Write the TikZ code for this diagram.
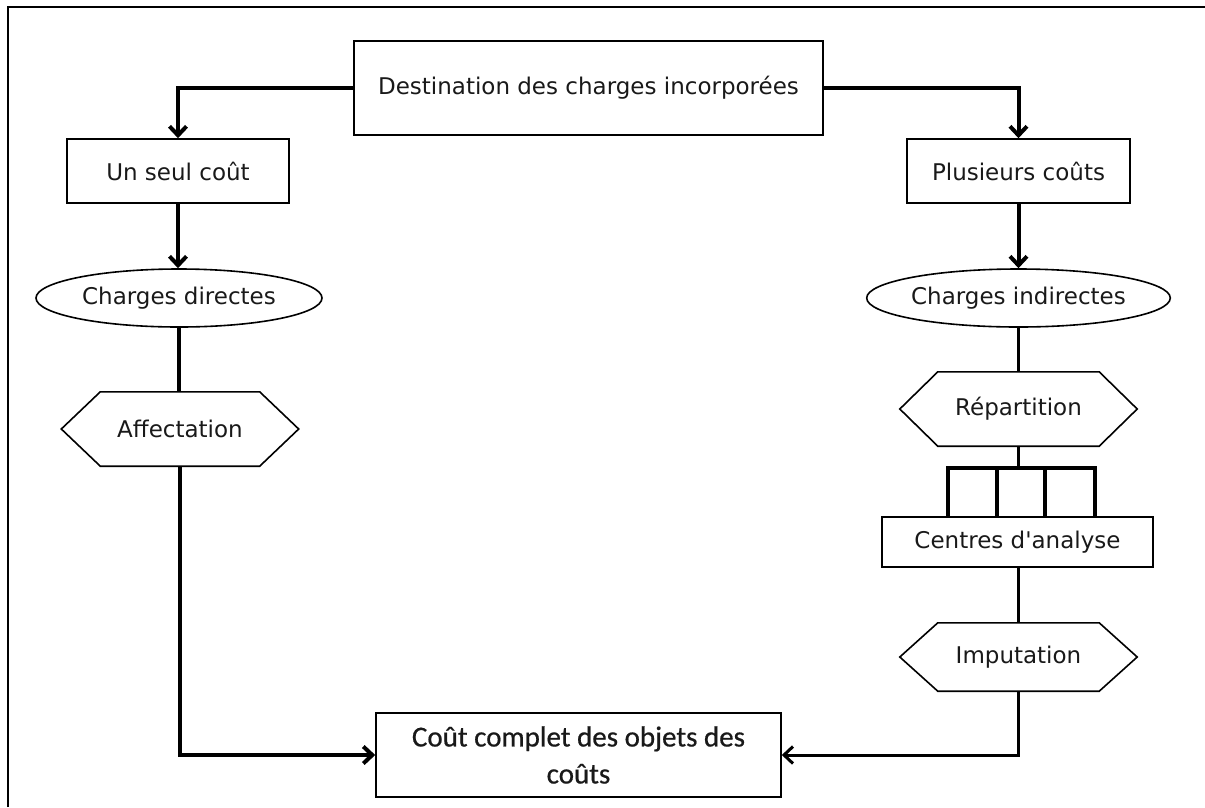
\documentclass[tikz,border=0pt]{standalone}
\usepackage{fontspec}
\setmainfont{DejaVu Sans}
\newfontfamily\calib{Carlito}[FakeBold=0.6]
\usetikzlibrary{shapes.geometric, arrows.meta}

% outline of a flat hexagon around a (borderless) node
\newcommand\hexframe[2]{%
  \draw[shapeline] (#1.west) -- ([xshift=#2]#1.north west) -- ([xshift=-#2]#1.north east)
    -- (#1.east) -- ([xshift=-#2]#1.south east) -- ([xshift=#2]#1.south west) -- cycle;}

\begin{document}
\begin{tikzpicture}[x=1pt, y=-1pt,
  every node/.style={inner sep=0pt, font=\fontsize{23}{27}\selectfont, text=black!90},
  shapeline/.style={draw, line width=1.6pt, line join=miter},
  boxnode/.style={shapeline, rectangle},
  oval/.style={shapeline, ellipse, minimum width=286pt, minimum height=58pt},
  hexnode/.style={minimum width=237pt, minimum height=74pt},
  heavy link/.style={line width=4pt},
  light link/.style={line width=3pt},
  bus line/.style={line width=4.5pt, line join=miter},
  arrowed/.style={-{Straight Barb[length=9pt, width=17pt]}},
]
\useasboundingbox (0,0) rectangle (1205,807);

% page frame (top and left edges)
\draw[line width=2pt] (8,807) -- (8,7) -- (1205,7);

% nodes
\node[boxnode, minimum width=469pt, minimum height=94pt] (dest) at (588.5,88) {Destination des charges incorporées};
\node[boxnode, minimum width=222pt, minimum height=64pt] (seul) at (178,171) {Un seul coût};
\node[boxnode, minimum width=223pt, minimum height=64pt] (plus) at (1018.5,171) {Plusieurs coûts};
\node[oval] (dir) at (179,298) {Charges directes};
\node[oval] (indir) at (1018.5,298) {Charges indirectes};
\node[hexnode] (aff) at (180,429) {Affectation};
\node[hexnode] (rep) at (1018.5,409) {Répartition};
\node[boxnode, minimum width=271pt, minimum height=50pt] (ctr) at (1017.5,542) {Centres d\textquotesingle analyse};
\node[hexnode, minimum height=68pt] (imp) at (1018.5,657) {Imputation};
\node[boxnode, minimum width=405pt, minimum height=84pt, align=center,
      font=\calib\fontsize{29}{37}\selectfont] (cout) at (578.5,755) {Coût complet des objets des\\coûts};

\hexframe{aff}{39pt}
\hexframe{rep}{38pt}
\hexframe{imp}{38pt}

% left branch
\draw[heavy link, arrowed] (dest.west) -| (seul.north);
\draw[heavy link, arrowed] (seul.south) -- (seul.south |- dir.north);
\draw[heavy link] (dir.south) -- (dir.south |- aff.north);
\draw[heavy link, arrowed] (aff.south) |- (cout.west);

% right branch
\draw[heavy link, arrowed] (dest.east) -| (plus.north);
\draw[heavy link, arrowed] (plus.south) -- (plus.south |- indir.north);
\draw[light link] (indir.south) -- (rep.north);
\coordinate (bus) at ([yshift=48pt]ctr.north);
\draw[light link] (rep.south) -- (rep.south |- bus);
\coordinate (b1) at ([xshift=-69.5pt]ctr.north);
\coordinate (b2) at ([xshift=-20.5pt]ctr.north);
\coordinate (b3) at ([xshift=27.5pt]ctr.north);
\coordinate (b4) at ([xshift=77.5pt]ctr.north);
\draw[bus line] (b1) -- (b1 |- bus) -- (b4 |- bus) -- (b4);
\draw[bus line] (b2) -- (b2 |- bus);
\draw[bus line] (b3) -- (b3 |- bus);
\draw[light link] (ctr.south) -- (ctr.south -| imp.north) -- (imp.north);
\draw[light link, arrowed] (imp.south) |- (cout.east);
\end{tikzpicture}
\end{document}
